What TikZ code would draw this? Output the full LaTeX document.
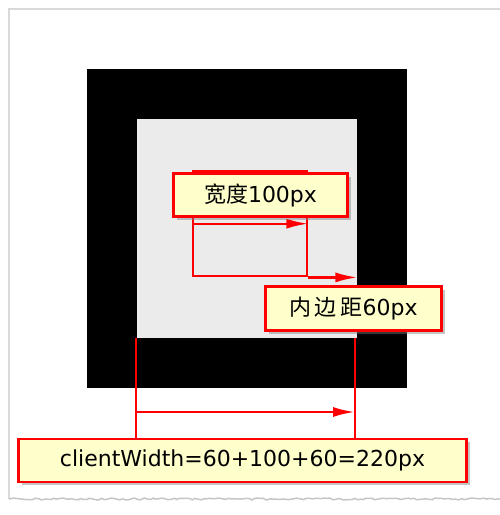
\documentclass[tikz,border=0pt]{standalone}
\usepackage{fontspec}
\setmainfont{DejaVu Sans}
\newfontfamily\cjk{Noto Sans CJK SC}
\usepackage{tikz}
\usetikzlibrary{arrows.meta,shadows,calc,decorations.pathmorphing}
\definecolor{notefill}{HTML}{FFFFCC}
\definecolor{padgray}{HTML}{EBEBEB}

\begin{document}
\begin{tikzpicture}[
    x=1pt, y=-1pt,
    box/.style={inner sep=0pt, anchor=north west},
    note/.style={draw=red, line width=2.6pt, fill=notefill, inner sep=0pt, font=\fontsize{22}{22}\selectfont,
        drop shadow={shadow xshift=3pt, shadow yshift=-3pt, opacity=.45}},
    redline/.style={red, line width=2.4pt},
    dim/.style={redline, -{Latex[length=22pt, width=10pt]}}
]
\useasboundingbox (0,0) rectangle (500,515);
\fill[white] (0,0) rectangle (500,515);

% page edge
\draw[gray!30, line width=1.5pt] (9,499) -- (9,9) -- (500,9);
\draw[gray!45, line width=1.5pt, decorate, decoration={random steps, segment length=3pt, amplitude=1pt}] (9,499) -- (500,499);

% box model
\node[box, fill=black, minimum width=320, minimum height=319] (border) at (87,69) {};
\node[box, fill=padgray, minimum width=220, minimum height=219] (padding) at (137,119) {};
\node[box, draw=red, line width=2.4pt, minimum width=114, minimum height=105] (content) at (192,170) {};

\coordinate (dimL) at (136,412);
\coordinate (dimR) at (355,412);

\draw[dim] (content.west) -- (content.east);
\draw[dim] (content.south east) -- (content.south east -| padding.east);

% labels
\node[note, minimum width=174, minimum height=43] (width) at (260.5,195) {{\cjk 宽度}100px};
\node[note, minimum width=176, minimum height=44] (pad) at (353.5,308.5) {{\cjk 内\,边\,距}60px};
\node[note, minimum width=448, minimum height=43, font=\fontsize{22}{22}\selectfont] (total) at (242.5,460.5) {clientWidth=60+100+60=220px};

\draw[redline] (dimL |- padding.south) -- (dimL |- total.north);
\draw[redline] (dimR |- padding.south) -- (dimR |- total.north);
\draw[dim] (dimL) -- (dimR);

\end{tikzpicture}
\end{document}
